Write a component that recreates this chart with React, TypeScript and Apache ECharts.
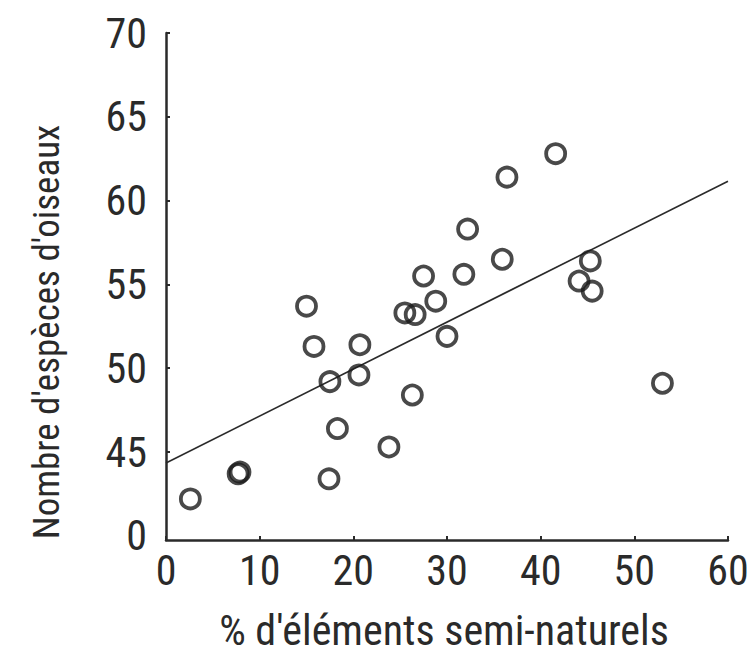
import React, { useEffect, useRef } from "react";
import * as echarts from "echarts";

const xValues = [2.6, 7.7, 7.9, 15.0, 15.8, 17.4, 17.5, 18.3, 20.7, 20.6, 23.8, 25.5, 26.6, 26.3, 27.5, 28.8, 30.0, 32.2, 31.8, 35.9, 36.4, 41.6, 44.1, 45.3, 45.5, 53.0];
const yValues = [42.2, 43.7, 43.8, 53.7, 51.3, 43.4, 49.2, 46.4, 51.4, 49.6, 45.3, 53.3, 53.2, 48.4, 55.5, 54.0, 51.9, 58.3, 55.6, 56.5, 61.4, 62.8, 55.2, 56.4, 54.6, 49.1];
const fitLine = [[0, 44.34], [60, 61.16]];
const yTickValues = [45, 50, 55, 60, 65, 70];
const yBreakLabelValue = 40;
const yMin = 39.75;
const yMax = 70;
const xTitle = "% d'éléments semi-naturels";
const yTitle = "Nombre d'espèces d'oiseaux";

const FONT = "'Roboto Condensed', 'DejaVu Sans Condensed', sans-serif";
const INK = "#2a2a2a";

export default function App() {
  const ref = useRef<HTMLDivElement>(null);
  useEffect(() => {
    document.body.style.margin = "0";
    if (!ref.current) return;
    const chart = echarts.init(ref.current, undefined, { renderer: "svg" });
    const points = xValues.map((x, i) => [x, yValues[i]]);
    chart.setOption({
      animation: false,
      backgroundColor: "#ffffff",
      grid: { left: 166, right: 25, top: 33, bottom: 116, containLabel: false },
      xAxis: {
        type: "value",
        min: 0,
        max: 60,
        interval: 10,
        axisLine: { show: true, lineStyle: { color: INK, width: 2.5 } },
        axisTick: { show: true, inside: true, length: 4, lineStyle: { color: INK, width: 2 } },
        axisLabel: { color: INK, fontFamily: FONT, fontSize: 42, margin: 9 },
        splitLine: { show: false },
      },
      yAxis: {
        type: "value",
        min: yMin,
        max: yMax,
        axisLine: { show: true, lineStyle: { color: INK, width: 2.5 } },
        axisTick: { show: true, inside: true, length: 4, customValues: yTickValues, lineStyle: { color: INK, width: 2 } },
        axisLabel: {
          color: INK,
          fontFamily: FONT,
          fontSize: 42,
          margin: 19,
          customValues: [yBreakLabelValue, ...yTickValues],
          formatter: (v: number) => (v < 45 ? "0" : String(v)),
        },
        splitLine: { show: false },
      },
      graphic: [
        {
          type: "text",
          x: 444,
          y: 630,
          style: { text: xTitle, fill: INK, font: `42px ${FONT}`, textAlign: "center", textVerticalAlign: "middle" },
        },
        {
          type: "text",
          x: 46,
          y: 332,
          rotation: Math.PI / 2,
          style: { text: yTitle, fill: INK, font: `37px ${FONT}`, textAlign: "center", textVerticalAlign: "middle" },
        },
      ],
      series: [
        {
          type: "line",
          data: fitLine,
          symbol: "none",
          lineStyle: { color: INK, width: 1.6 },
          z: 2,
        },
        {
          type: "scatter",
          data: points,
          symbol: "circle",
          symbolSize: 19,
          itemStyle: { color: "transparent", borderColor: "#1c1c1c", borderWidth: 3.8 },
          z: 3,
        },
      ],
    });
    return () => chart.dispose();
  }, []);
  return <div ref={ref} style={{ width: 753, height: 656 }} />;
}
